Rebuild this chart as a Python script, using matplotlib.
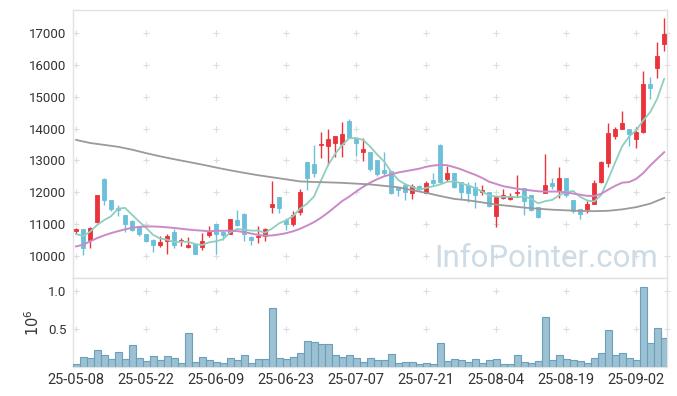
import matplotlib
matplotlib.use("Agg")
import matplotlib.pyplot as plt
import numpy as np

plt.rcParams['font.family'] = ['Roboto', 'DejaVu Sans']

# ---- data ----
opens = [10765, 10838, 10482, 11048, 12410, 11750, 11509, 11289, 11100, 10943,
         10692, 10482, 10325, 10461, 10734, 10461, 10272, 10367, 10262, 10639,
         11006, 10754, 10671, 11132, 11320, 10597, 10576, 10608, 11519, 11855,
         11111, 10995, 11373, 12966, 12892, 13500, 13469, 13563, 13521, 14254,
         13699, 13280, 13280, 13018, 12704, 12672, 12159, 12232, 11991, 12211,
         11991, 12389, 13489, 12421, 12599, 12316, 12232, 12159, 12022, 12001,
         11237, 11813, 11781, 11991, 12127, 11918, 11530, 11991, 12305, 12075,
         12442, 11760, 11467, 11478, 11635, 12337, 12934, 13772, 13992, 13982,
         13678, 13888, 15407, 15900, 16654]
highs = [10880, 10838, 10891, 11928, 12442, 11750, 11582, 11289, 11132, 10943,
         10692, 10524, 10608, 10681, 10838, 10555, 10587, 10398, 10713, 10922,
         11006, 10786, 11163, 11425, 11341, 10608, 10943, 10870, 12368, 11855,
         11184, 11394, 12096, 12966, 13489, 13888, 13982, 13772, 14202, 14307,
         13699, 13720, 13280, 13018, 13259, 12672, 12159, 12305, 12263, 12232,
         12358, 12599, 13521, 12829, 12599, 12316, 12316, 12316, 12232, 12022,
         11865, 12096, 11991, 12546, 12127, 11918, 11530, 13196, 12442, 12787,
         12463, 11760, 11467, 11729, 12389, 12997, 14171, 14066, 14558, 13982,
         14066, 15816, 15617, 16738, 17472]
lows = [10681, 10031, 10241, 11027, 11582, 11394, 11237, 10744, 10786, 10629,
        10430, 10115, 10272, 10052, 10241, 10314, 10241, 10052, 10189, 10576,
        10052, 10482, 10671, 10922, 10451, 10346, 10398, 10472, 11341, 11341,
        10817, 10943, 11268, 12054, 12494, 13070, 12861, 13123, 13123, 13699,
        13144, 12987, 12683, 12525, 12546, 11949, 11886, 11760, 11781, 12054,
        11970, 12201, 12284, 12368, 12117, 11781, 11687, 11498, 11918, 11530,
        10901, 11792, 11760, 11865, 11289, 11394, 11184, 11970, 12096, 11813,
        11865, 11341, 11153, 11341, 11635, 12305, 12808, 13668, 13982, 13469,
        13385, 13856, 14925, 15585, 16455]
closes = [10849, 10241, 10870, 11907, 11740, 11467, 11425, 10995, 10817, 10692,
          10461, 10325, 10419, 10629, 10325, 10503, 10325, 10063, 10472, 10754,
          10671, 10639, 11163, 10975, 10681, 10503, 10629, 10838, 11635, 11488,
          10995, 11278, 12012, 12442, 12620, 13521, 13668, 13772, 13835, 13699,
          13563, 13364, 12725, 12578, 12599, 11991, 12054, 12022, 12201, 12096,
          12305, 12305, 12316, 12620, 12159, 12001, 11970, 11897, 12075, 11551,
          11844, 11897, 11886, 12022, 11708, 11425, 11205, 12232, 12211, 12442,
          11918, 11394, 11310, 11635, 12284, 12945, 13856, 13982, 14171, 13835,
          13888, 15407, 15292, 16287, 16979]
volume_m = [0.039, 0.129, 0.116, 0.220, 0.155, 0.103, 0.194, 0.103, 0.284, 0.116,
            0.078, 0.142, 0.091, 0.142, 0.116, 0.052, 0.440, 0.065, 0.129, 0.091,
            0.065, 0.052, 0.116, 0.091, 0.155, 0.052, 0.103, 0.103, 0.776, 0.116,
            0.103, 0.129, 0.181, 0.336, 0.323, 0.297, 0.297, 0.155, 0.129, 0.155,
            0.116, 0.065, 0.116, 0.091, 0.091, 0.168, 0.052, 0.065, 0.065, 0.039,
            0.052, 0.039, 0.310, 0.078, 0.103, 0.091, 0.065, 0.103, 0.052, 0.091,
            0.103, 0.039, 0.039, 0.155, 0.065, 0.052, 0.078, 0.659, 0.091, 0.155,
            0.103, 0.091, 0.078, 0.052, 0.116, 0.181, 0.478, 0.155, 0.181, 0.116,
            0.091, 1.047, 0.310, 0.504, 0.375]
ma5 = [10683, 10620, 10755, 10966, 11121, 11245, 11482, 11507, 11289, 11079,
       10878, 10658, 10543, 10505, 10432, 10440, 10440, 10369, 10338, 10423,
       10457, 10520, 10740, 10840, 10826, 10792, 10790, 10725, 10857, 11019,
       11117, 11247, 11482, 11643, 11869, 12375, 12853, 13205, 13483, 13699,
       13707, 13647, 13437, 13186, 12966, 12651, 12389, 12249, 12173, 12073,
       12136, 12186, 12245, 12328, 12341, 12280, 12213, 12129, 12020, 11899,
       11867, 11853, 11851, 11840, 11871, 11788, 11649, 11718, 11756, 11903,
       12002, 12039, 11855, 11740, 11708, 11914, 12406, 12940, 13448, 13758,
       13946, 14257, 14519, 14942, 15571]
ma20 = [10293, 10346, 10451, 10555, 10640, 10713, 10775, 10830, 10880, 10910,
        10922, 10922, 10912, 10895, 10875, 10850, 10825, 10805, 10790, 10770,
        10786, 10786, 10790, 10775, 10745, 10700, 10655, 10630, 10640, 10670,
        10710, 10770, 10850, 10950, 11060, 11200, 11360, 11540, 11720, 11860,
        12020, 12170, 12300, 12410, 12500, 12565, 12620, 12660, 12700, 12740,
        12800, 12840, 12860, 12850, 12790, 12720, 12630, 12550, 12450, 12330,
        12260, 12190, 12149, 12110, 12080, 12055, 12030, 12021, 12021, 12020,
        11990, 11957, 11920, 11885, 11883, 11950, 12080, 12200, 12300, 12320,
        12420, 12600, 12840, 13050, 13260]
ma60_idx = [0, 2, 4, 6, 8, 10, 12, 14, 16, 18, 20, 22, 24, 26, 28, 30, 32, 34,
            36, 38, 40, 42, 44, 46, 48, 50, 52, 54, 56, 58, 60, 62, 64, 66, 68,
            70, 72, 74, 76, 78, 80, 82, 84]
ma60 = [13647, 13550, 13490, 13430, 13340, 13230, 13130, 13040, 12955, 12870,
        12777, 12690, 12610, 12535, 12470, 12405, 12340, 12322, 12310, 12295,
        12270, 12245, 12200, 12155, 12065, 11980, 11880, 11790, 11745, 11680,
        11610, 11565, 11515, 11480, 11450, 11430, 11410, 11404, 11415, 11460,
        11530, 11640, 11820]
tick_pos = [0, 10, 20, 30, 40, 50, 60, 70, 80]
tick_labels = ['25-05-08', '25-05-22', '25-06-09', '25-06-23', '25-07-07',
               '25-07-21', '25-08-04', '25-08-19', '25-09-02']
price_ticks = [10000, 11000, 12000, 13000, 14000, 15000, 16000, 17000]
vol_ticks = [0.5, 1.0]

# ---- styling ----
UP = '#ea333b'
DOWN = '#6cbfd8'
SPINE = '#e2e2e2'
CROSS = '#dddddd'
TXT = '#333333'

fig = plt.figure(figsize=(6.77, 3.96), dpi=100)
ax = fig.add_axes([0.1083, 0.2972, 0.8765, 0.6775])
axv = fig.add_axes([0.1083, 0.0732, 0.8765, 0.2240], sharex=ax)

x = np.arange(len(closes))
o = np.array(opens); c = np.array(closes)
h = np.array(highs); l = np.array(lows)
cols = [UP if cc >= oo else DOWN for oo, cc in zip(o, c)]

ax.vlines(x, l, h, colors=cols, linewidth=1.0, zorder=3)
ax.bar(x, np.abs(c - o), bottom=np.minimum(o, c), width=0.6, color=cols,
       edgecolor=cols, linewidth=0.6, zorder=4)

ax.plot(x, ma5, color='#8ecfc0', lw=1.3, zorder=5)
ax.plot(x, ma20, color='#c98ac7', lw=1.4, zorder=5)
ax.plot(ma60_idx, ma60, color='#9a9a9a', lw=1.3, zorder=5)

xl = (-0.39, 84.36)
ax.set_xlim(*xl)
ax.set_ylim(9290, 17735)
ax.set_yticks(price_ticks)
ax.set_yticklabels([str(v) for v in price_ticks])

# cross-shaped grid marks
for xt in tick_pos + [xl[1]]:
    for yt in price_ticks:
        ax.plot(xt, yt, marker='+', color=CROSS, ms=4.5, mew=0.8, zorder=1,
                clip_on=False)
    for yt in vol_ticks:
        axv.plot(xt, yt, marker='+', color=CROSS, ms=4.5, mew=0.8, zorder=1,
                 clip_on=False)

ax.text(0.986, 0.043, 'InfoPointer.com', transform=ax.transAxes,
        ha='right', va='baseline', fontsize=22.5, color='#ccdbe5', zorder=2)

axv.bar(x, volume_m, width=1.0, color='#9bc1d3', edgecolor='#6b9fba',
        linewidth=0.8, zorder=3)
axv.set_ylim(0, 1.16)
axv.set_yticks(vol_ticks)
axv.set_yticklabels(['0.5', '1.0'])
axv.set_ylabel('$10^{6}$', color=TXT, fontsize=10.5, labelpad=4)
axv.set_xticks(tick_pos)
axv.set_xticklabels(tick_labels)

for a in (ax, axv):
    for s in a.spines.values():
        s.set_color(SPINE)
        s.set_linewidth(1.0)
    a.tick_params(length=0, colors=TXT, labelsize=9.5, pad=5)
plt.setp(ax.get_xticklabels(), visible=False)
axv.tick_params(axis='x', labelsize=10.5, pad=4)

fig.savefig('out.png', dpi=100)
